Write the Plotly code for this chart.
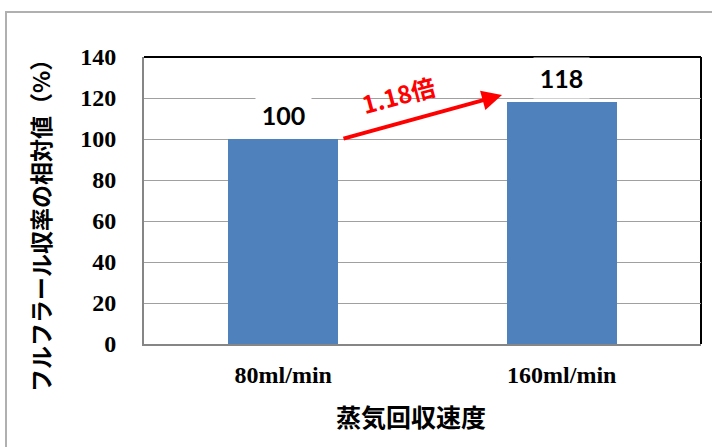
import plotly.graph_objects as go

categories = ["80ml/min", "160ml/min"]
values = [100, 118]
value_labels = ["100", "118"]
y_ticks = [0, 20, 40, 60, 80, 100, 120, 140]
ratio_label = "1.18倍"
x_title = "蒸気回収速度"
y_title = "フルフラール収率の相対値（%）"

W, H = 712, 447
L, R, T, B = 144, 11, 57, 103
PW, PH = W - L - R, H - T - B

def px(x):
    return (x - L) / PW

def py(y):
    return (H - B - y) / PH

fig = go.Figure()
fig.add_trace(go.Bar(
    x=categories, y=values, width=0.395,
    marker=dict(color="#4F81BD", line=dict(width=0)),
    hoverinfo="skip",
))

serif_bold = dict(family="Liberation Serif, Times New Roman, serif", size=24, color="black", weight="bold")
cjk_font = "Noto Sans CJK JP, sans-serif"

annotations = []
for c, v, t in zip(categories, values, value_labels):
    annotations.append(dict(
        x=c, y=v, xref="x", yref="y", text=t, showarrow=False,
        xanchor="center", yanchor="bottom", yshift=3, width=55, height=40,
        bgcolor="white", borderpad=0,
        font=dict(family="Lato, Open Sans, sans-serif", size=25, color="black", weight="bold"),
    ))

# arrow
annotations.append(dict(
    x=px(502), y=py(95), xref="paper", yref="paper",
    ax=-160, ay=44, axref="pixel", ayref="pixel",
    text="", showarrow=True, arrowhead=2, arrowsize=1, arrowwidth=4,
    arrowcolor="#FF0000", standoff=0, startstandoff=0,
))
annotations.append(dict(
    x=px(398), y=py(94), xref="paper", yref="paper",
    xanchor="center", yanchor="middle",
    text=ratio_label, showarrow=False, textangle=-15,
    font=dict(family=cjk_font, size=24, color="#FF0000", weight="bold"),
))
# axis titles
annotations.append(dict(
    x=px(40), y=py(220), xref="paper", yref="paper",
    xanchor="center", yanchor="middle",
    text=y_title, showarrow=False, textangle=-90,
    font=dict(family=cjk_font, size=23, color="black", weight="bold"),
))
annotations.append(dict(
    x=px(411), y=py(416), xref="paper", yref="paper",
    xanchor="center", yanchor="middle",
    text=x_title, showarrow=False,
    font=dict(family=cjk_font, size=25, color="black", weight="bold"),
))

shapes = [
    # outer chart border
    dict(type="rect", xref="paper", yref="paper",
         x0=px(6), y0=py(12), x1=px(730), y1=py(470),
         line=dict(color="#B0B0B0", width=2), layer="below"),
    # plot area border top/right
    dict(type="line", xref="paper", yref="paper", x0=0, x1=1, y0=1, y1=1,
         line=dict(color="black", width=2), layer="below"),
    dict(type="line", xref="paper", yref="paper", x0=1, x1=1, y0=0, y1=1,
         line=dict(color="black", width=2), layer="below"),
]

fig.update_layout(
    width=W, height=H,
    margin=dict(l=L, r=R, t=T, b=B, autoexpand=False),
    paper_bgcolor="white", plot_bgcolor="white",
    showlegend=False,
    annotations=annotations,
    shapes=shapes,
    bargap=0,
)
fig.update_xaxes(
    automargin=False,
    showgrid=False, showline=True, linecolor="#868686", linewidth=2,
    ticks="", tickfont=serif_bold, ticklabelstandoff=8,
)
fig.update_yaxes(
    automargin=False,
    range=[0, 140], tickvals=y_ticks, ticktext=[str(v) for v in y_ticks],
    showgrid=True, gridcolor="#A0A0A0", gridwidth=1,
    showline=True, linecolor="#868686", linewidth=2,
    ticks="", tickfont=serif_bold, ticklabelstandoff=21,
    zeroline=False,
)

fig.write_html("out.html", config={"displayModeBar": False},
               post_script="document.body.style.margin='0px';")
